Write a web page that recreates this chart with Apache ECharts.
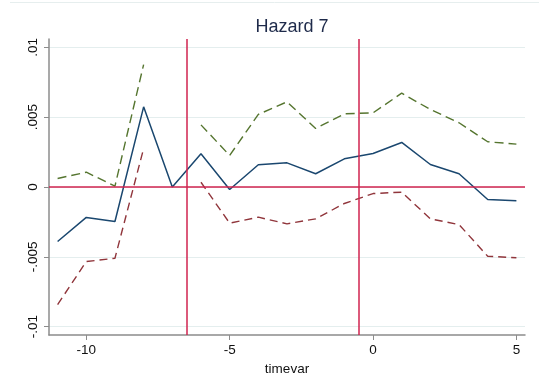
<!DOCTYPE html>
<html>
<head>
<meta charset="utf-8">
<script src="https://cdn.jsdelivr.net/npm/echarts@6/dist/echarts.min.js"></script>
<style>
  html, body { margin: 0; padding: 0; background: #ffffff; }
  #chart { width: 539px; height: 381px; }
</style>
</head>
<body>
<div id="chart"></div>
<script>
// Event-time coefficients for hazard 7 with 95% confidence bounds
const timevar = [-11, -10, -9, -8, -7, -6, -5, -4, -3, -2, -1, 0, 1, 2, 3, 4, 5];
const estimate = [-0.0039, -0.00218, -0.00247, 0.00574, 0.0, 0.00238, -0.00018, 0.00159, 0.00173, 0.00095, 0.00202, 0.0024, 0.00319, 0.00161, 0.00095, -0.0009, -0.00099];
const upperCI = [0.00061, 0.00106, 0.00006, 0.00877, null, 0.00445, 0.00226, 0.0052, 0.0061, 0.00419, 0.00524, 0.00531, 0.00672, 0.00555, 0.0046, 0.00324, 0.00307];
const lowerCI = [-0.00842, -0.00534, -0.0051, 0.00276, null, 0.00034, -0.00259, -0.00216, -0.00264, -0.00228, -0.00118, -0.00047, -0.00037, -0.00228, -0.00269, -0.00496, -0.00507];

// Axis ticks and reference lines
const xTicks = [-10, -5, 0, 5];
const yTicks = [-0.01, -0.005, 0, 0.005, 0.01];
const eventLines = [-6.5, -0.5];

const pairs = arr => timevar.map((t, i) => [t, arr[i]]);
const stataNum = v => {
  if (v === 0) return '0';
  const s = String(Math.round(v * 10000) / 10000);
  return s.replace(/^(-?)0\./, '$1.');
};

const FONT = 'Liberation Sans, Arial, sans-serif';
const AXIS_GREY = '#8c8c8c';
const REF_RED = '#d0234f';

const chart = echarts.init(document.getElementById('chart'), null, { renderer: 'canvas' });

chart.setOption({
  backgroundColor: '#ffffff',
  animation: false,
  title: {
    text: 'Hazard 7',
    left: 287,
    textAlign: 'center',
    top: 13,
    textStyle: { fontFamily: FONT, fontSize: 18, fontWeight: 'normal', color: '#1e2a4a' }
  },
  graphic: [{
    type: 'line',
    shape: { x1: 10, y1: 2.5, x2: 539, y2: 2.5 },
    style: { stroke: '#e6eeee', lineWidth: 1 },
    silent: true
  }],
  grid: { left: 49, right: 14, top: 39, bottom: 46, containLabel: false },
  xAxis: {
    type: 'value',
    min: -11.3,
    max: 5.3,
    name: 'timevar',
    nameLocation: 'middle',
    nameGap: 22,
    nameTextStyle: { fontFamily: FONT, fontSize: 13.5, color: '#111111' },
    axisLine: { show: true, onZero: false, lineStyle: { color: AXIS_GREY, width: 1.5 } },
    axisTick: { show: true, customValues: xTicks, length: 5, lineStyle: { color: AXIS_GREY, width: 1 } },
    axisLabel: { customValues: xTicks, fontFamily: FONT, fontSize: 13.5, color: '#111111', margin: 8,
                 formatter: v => String(v) },
    splitLine: { show: false }
  },
  yAxis: {
    type: 'value',
    min: -0.0106,
    max: 0.0106,
    axisLine: { show: true, onZero: false, lineStyle: { color: AXIS_GREY, width: 1.5 } },
    axisTick: { show: true, customValues: yTicks, length: 5, lineStyle: { color: AXIS_GREY, width: 1 } },
    axisLabel: { customValues: yTicks, rotate: 90, fontFamily: FONT, fontSize: 13.5, color: '#111111', margin: 9,
                 formatter: v => stataNum(v) },
    splitLine: { show: true, lineStyle: { color: '#e4eeee', width: 1 } }
  },
  series: [
    {
      name: 'upper',
      type: 'line',
      data: pairs(upperCI),
      connectNulls: false,
      showSymbol: false,
      symbol: 'none',
      lineStyle: { color: '#55752f', width: 1.4, type: [9, 5] },
      z: 3
    },
    {
      name: 'lower',
      type: 'line',
      data: pairs(lowerCI),
      connectNulls: false,
      showSymbol: false,
      symbol: 'none',
      lineStyle: { color: '#90353b', width: 1.4, type: [8, 5] },
      z: 3
    },
    {
      name: 'estimate',
      type: 'line',
      data: pairs(estimate),
      showSymbol: false,
      symbol: 'none',
      lineStyle: { color: '#1a476f', width: 1.5 },
      z: 4,
      markLine: {
        silent: true,
        symbol: ['none', 'none'],
        label: { show: false },
        lineStyle: { color: REF_RED, width: 1.5, type: 'solid' },
        data: [
          ...eventLines.map(x => ({ xAxis: x })),
          { yAxis: 0 }
        ]
      }
    }
  ]
});
</script>
</body>
</html>
